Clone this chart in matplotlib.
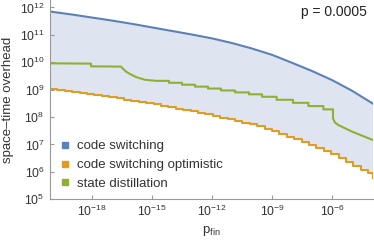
import matplotlib.pyplot as plt
import numpy as np
from matplotlib.lines import Line2D
from matplotlib.ticker import FixedLocator, FuncFormatter, NullLocator

plt.rcParams['font.family'] = ['Liberation Sans', 'DejaVu Sans']
plt.rcParams['mathtext.fontset'] = 'custom'
plt.rcParams['mathtext.rm'] = 'Liberation Sans'
plt.rcParams['mathtext.it'] = 'Liberation Sans:italic'

# values, as log10
blue_logp = [-20.1, -19, -18, -17, -16, -15, -14, -13, -12, -11, -10, -9, -8, -7, -6, -5, -4, -3.95]
blue_logy = [11.85, 11.74, 11.63, 11.52, 11.40, 11.27, 11.14, 11.01, 10.87, 10.70, 10.50, 10.27,
             9.98, 9.68, 9.35, 8.96, 8.51, 8.49]

# code switching optimistic is a staircase: left edges of each step and its level
orange_edges = [-20.10, -19.73, -19.36, -18.99, -18.62, -18.25, -17.88, -17.51, -17.14, -16.77,
                -16.40, -16.03, -15.66, -15.29, -14.92, -14.55, -14.18, -13.81, -13.44, -13.07,
                -12.70, -12.33, -11.96, -11.59, -11.22, -10.85, -10.48, -10.11, -9.74, -9.37,
                -9.00, -8.63, -8.26, -7.89, -7.52, -7.15, -6.78, -6.41, -6.04, -5.67,
                -5.30, -4.93, -4.56, -4.19]
orange_levels = [9.03, 8.98, 8.95, 8.92, 8.88, 8.85, 8.82, 8.78, 8.73, 8.69,
                 8.64, 8.60, 8.56, 8.51, 8.46, 8.41, 8.36, 8.31, 8.26, 8.21,
                 8.16, 8.11, 8.04, 7.98, 7.92, 7.85, 7.79, 7.73, 7.66, 7.57,
                 7.48, 7.38, 7.29, 7.19, 7.08, 6.97, 6.86, 6.76, 6.64, 6.50,
                 6.36, 6.22, 6.08, 5.95]
orange_end = -3.95
orange_last = 5.78

green_logp = [-20.1, -18.05, -18.05, -16.55, -16.45, -16.3, -16.1, -15.8, -15.35, -14.8,
              -14.15, -14.15, -13.5, -13.5, -12.85, -12.85, -12.2, -12.2, -11.55, -11.55,
              -10.85, -10.85, -10.15, -10.15, -9.5, -9.5, -8.77, -8.77, -7.95, -7.95,
              -7.18, -7.18, -6.43, -6.43, -5.95, -5.95, -5.85, -5.69, -5.0, -3.95]
green_logy = [9.96, 9.95, 9.85, 9.84, 9.76, 9.66, 9.57, 9.46, 9.36, 9.32,
              9.32, 9.25, 9.25, 9.18, 9.18, 9.11, 9.11, 9.04, 9.04, 8.97,
              8.97, 8.90, 8.90, 8.83, 8.83, 8.74, 8.74, 8.63, 8.63, 8.52,
              8.52, 8.40, 8.40, 8.28, 8.28, 7.95, 7.80, 7.71, 7.47, 7.16]

labels = ['code switching', 'code switching optimistic', 'state distillation']
colors = ['#5e81b5', '#e19c24', '#8fb032']
x_ticks = [-18, -15, -12, -9, -6]
y_ticks = [5, 6, 7, 8, 9, 10, 11, 12]

# step vertices for the orange line
ox, oy = [], []
for i in range(len(orange_levels)):
    right = orange_edges[i + 1] if i + 1 < len(orange_edges) else orange_end
    ox += [orange_edges[i], right]
    oy += [orange_levels[i], orange_levels[i]]
ox.append(orange_end)
oy.append(orange_last)
ox = 10.0 ** np.array(ox)
oy = 10.0 ** np.array(oy)

bx = 10.0 ** np.array(blue_logp)
by = 10.0 ** np.array(blue_logy)
gx = 10.0 ** np.array(green_logp)
gy = 10.0 ** np.array(green_logy)

fig = plt.figure(figsize=(3.74, 2.4), dpi=100)
ax = fig.add_axes([50 / 374, 40.7 / 240, 323 / 374, 199.3 / 240])

ax.fill(np.concatenate([bx, ox[::-1]]), np.concatenate([by, oy[::-1]]),
        color=colors[0], alpha=0.2, lw=0)
ax.plot(bx, by, color=colors[0], lw=1.5)
ax.plot(ox, oy, color=colors[1], lw=1.5)
ax.plot(gx, gy, color=colors[2], lw=1.5)

ax.set_xscale('log')
ax.set_yscale('log')
ax.set_xlim(10 ** -20.1, 10 ** -3.95)
ax.set_ylim(1e5, 10 ** 12.27)

ax.xaxis.set_major_locator(FixedLocator([10.0 ** t for t in x_ticks]))
ax.yaxis.set_major_locator(FixedLocator([10.0 ** t for t in y_ticks]))
ax.xaxis.set_minor_locator(NullLocator())
ax.yaxis.set_minor_locator(NullLocator())
fmt = FuncFormatter(lambda v, pos: r'$10^{%d}$' % round(np.log10(v)))
ax.xaxis.set_major_formatter(fmt)
ax.yaxis.set_major_formatter(fmt)
ax.tick_params(direction='in', length=3, width=0.8, color='#999999',
               labelsize=8.7, labelcolor='#333333')
ax.tick_params(axis='x', pad=3)
ax.tick_params(axis='y', pad=4)

for s in ['top', 'right']:
    ax.spines[s].set_visible(False)
for s in ['left', 'bottom']:
    ax.spines[s].set_color('#999999')
    ax.spines[s].set_linewidth(0.8)

ax.set_ylabel('space\u2013time overhead', fontsize=9.5, color='#333333', labelpad=4)
ax.set_xlabel(r'p$_{\mathrm{fin}}$', fontsize=9.5, color='#333333', labelpad=4)

ax.text(367 / 374, 1 - 12 / 240, 'p = 0.0005', transform=fig.transFigure,
        ha='right', va='center', fontsize=10, color='#222222')

handles = [Line2D([], [], marker='s', linestyle='none', markersize=4.5,
                  markerfacecolor=c, markeredgecolor=c) for c in colors]
ax.legend(handles, labels, loc='lower left', bbox_to_anchor=(61 / 374, 50 / 240),
          bbox_transform=fig.transFigure, frameon=False, fontsize=9.5,
          handlelength=0.6, handletextpad=0.6, labelspacing=0.5,
          borderpad=0, borderaxespad=0, labelcolor='#333333')

fig.savefig('out.png', dpi=100)
